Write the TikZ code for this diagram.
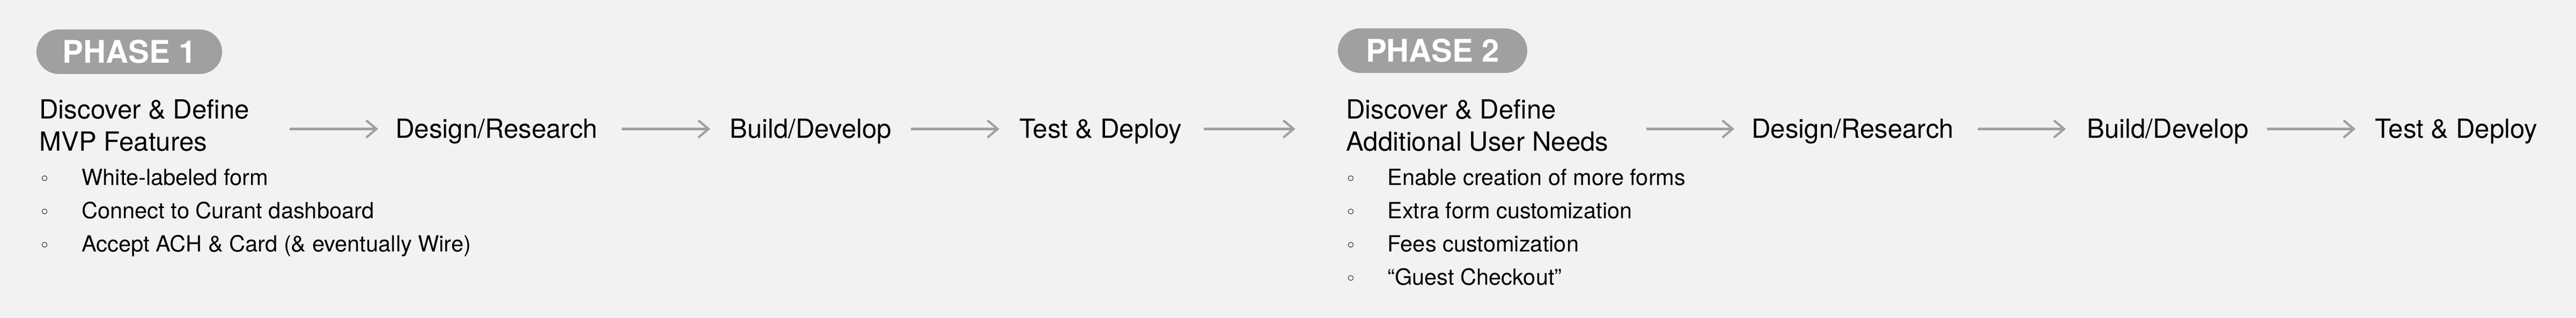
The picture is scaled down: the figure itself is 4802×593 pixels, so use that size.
\documentclass[tikz,border=0pt]{standalone}
\usepackage{fontspec}
\setmainfont{TeX Gyre Heros}
\newfontfamily\dejavu{DejaVu Sans}
\usetikzlibrary{arrows.meta,fit}
\definecolor{bgc}{HTML}{F2F2F2}
\definecolor{pillc}{HTML}{A0A0A0}
\definecolor{arrc}{HTML}{A0A0A0}
\begin{document}
\begin{tikzpicture}[x=0.5pt,y=-0.5pt,
  pill/.style={rectangle, rounded corners=20.7pt, fill=pillc, text=white, inner sep=0,
    minimum height=41.5pt, font=\bfseries\fontsize{29.1pt}{30pt}\selectfont,
    text height=20.9pt, text depth=0pt},
  lbl/.style={inner sep=0, anchor=base west, font=\fontsize{24.6pt}{30pt}\selectfont,
    text height=17.7pt, text depth=1.2pt},
  item/.style={inner sep=0, anchor=base west, font=\fontsize{20.8pt}{25pt}\selectfont},
  bul/.style={inner sep=0, anchor=base, font=\dejavu\fontsize{17pt}{20pt}\selectfont},
  arr/.style={draw=arrc, line width=2.1pt, -{Straight Barb[length=9.5pt,width=16pt]}},
  grp/.style={inner sep=0, draw=none}
]
\useasboundingbox (0,0) rectangle (4802,593);
\fill[bgc] (0,0) rectangle (4802,593);

% Phase 1
\node[pill, minimum width=173pt] (p1) at (241,96.5) {PHASE 1};
\node[lbl] (d1a) at (73,222) {Discover \& Define};
\node[lbl] (d1b) at (73,282) {MVP Features};
\node[grp, fit=(d1a)(d1b)] (d1) {};
\node[lbl] (r1) at (737,257) {Design/Research};
\node[lbl] (b1) at (1360,257) {Build/Develop};
\node[lbl] (t1) at (1900,257) {Test \& Deploy};

\node[bul] (m11) at (84,345) {◦};
\node[item] (i11) at (152,345) {White-labeled form};
\node[bul] (m12) at (84,407) {◦};
\node[item] (i12) at (152,407) {Connect to Curant dashboard};
\node[bul] (m13) at (84,469) {◦};
\node[item] (i13) at (152,469) {Accept ACH \& Card (\& eventually Wire)};

% Phase 2
\node[pill, minimum width=176.5pt] (p2) at (2670.5,94.5) {PHASE 2};
\node[lbl] (d2a) at (2509,222) {Discover \& Define};
\node[lbl] (d2b) at (2509,282) {Additional User Needs};
\node[grp, fit=(d2a)(d2b)] (d2) {};
\node[lbl] (r2) at (3265,257) {Design/Research};
\node[lbl] (b2) at (3890,257) {Build/Develop};
\node[lbl] (t2) at (4427,257) {Test \& Deploy};

\node[bul] (m21) at (2518,345) {◦};
\node[item] (i21) at (2586,345) {Enable creation of more forms};
\node[bul] (m22) at (2518,407) {◦};
\node[item] (i22) at (2586,407) {Extra form customization};
\node[bul] (m23) at (2518,469) {◦};
\node[item] (i23) at (2586,469) {Fees customization};
\node[bul] (m24) at (2518,531) {◦};
\node[item] (i24) at (2586,531) {“Guest Checkout”};

% Arrows
\draw[arr, shorten <=37pt, shorten >=16pt] (d1.east |- r1.west) -- (r1.west);
\draw[arr, shorten <=22.5pt, shorten >=18pt] (r1.east) -- (b1.west);
\draw[arr, shorten <=17.75pt, shorten >=18.5pt] (b1.east) -- (t1.west);
\draw[arr, shorten <=20pt, shorten >=47pt] (t1.east) -- (d2.west |- t1.east);
\draw[arr, shorten <=34.8pt, shorten >=16pt] (d2.east |- r2.west) -- (r2.west);
\draw[arr, shorten <=22.5pt, shorten >=19.5pt] (r2.east) -- (b2.west);
\draw[arr, shorten <=16.75pt, shorten >=18pt] (b2.east) -- (t2.west);
\end{tikzpicture}
\end{document}
